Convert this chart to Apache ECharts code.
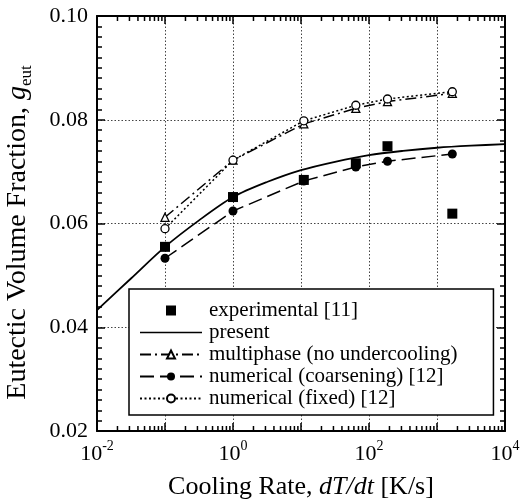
<!DOCTYPE html>
<html lang="en">
<head>
<meta charset="UTF-8">
<title>Eutectic volume fraction</title>
<script src="https://cdn.jsdelivr.net/npm/echarts@6/dist/echarts.min.js"></script>
<style>
html, body { margin: 0; padding: 0; background: #fff; }
#chart { width: 522px; height: 501px; }
</style>
</head>
<body>
<div id="chart"></div>
<script>
// cooling rates (K/s) where the measured / simulated points sit
var rates = [0.1, 1, 11, 64, 187, 1680];
var experimental = [0.0555, 0.0651, 0.0684, 0.0716, 0.0749, 0.0619];
var multiphase = [0.0612, 0.0722, 0.0792, 0.0822, 0.0835, 0.0851];
var coarsening = [0.0533, 0.0624, 0.0682, 0.0709, 0.0720, 0.0734];
var fixedModel = [0.0590, 0.0722, 0.0798, 0.0828, 0.0840, 0.0854];

// "present" model
var presentRates = [0.01, 0.0316, 0.1, 0.316, 1, 3.16, 10, 31.6, 100, 316, 1000, 3162, 10000];
var presentVals = [0.0433, 0.0494, 0.0555, 0.0606, 0.0651, 0.0680, 0.0703, 0.0719, 0.0732, 0.0740, 0.0746, 0.0750, 0.0753];

var names = ['experimental [11]', 'present', 'multiphase (no undercooling)',
  'numerical (coarsening) [12]', 'numerical (fixed) [12]'];

// log minor tick positions 2..9 x 10^k
var xMinorTicks = [];
for (var k = -2; k < 4; k++) {
  for (var m = 2; m < 10; m++) xMinorTicks.push(m * Math.pow(10, k));
}

var FONT = 'Liberation Serif';

function pairs(xs, ys) {
  return xs.map(function (x, i) { return [x, ys[i]]; });
}

var chart = echarts.init(document.getElementById('chart'));

var axisLine = { show: true, lineStyle: { color: '#000', width: 2 } };
var dotted = { show: true, lineStyle: { color: '#444', width: 1, type: [1.5, 2] } };
var tick = { inside: true, length: 8, lineStyle: { color: '#000', width: 1.5 } };
var minor = { show: true, splitNumber: 10, length: 5, lineStyle: { color: '#000', width: 1.5 } };
var hollow = { color: '#fff', borderColor: '#000', borderWidth: 1.3, opacity: 1 };

var option = {
  backgroundColor: '#fff',
  animation: false,
  grid: { left: 97, top: 16, right: 17, bottom: 70, outerBoundsMode: 'none' },
  legend: {
    orient: 'vertical',
    left: 129,
    top: 289,
    data: [
      { name: names[0], icon: 'path://M0,0L10,0L10,10L0,10Z' },
      { name: names[1], icon: 'path://M0,0L60,0L60,1.6L0,1.6Z' },
      names[2], names[3], names[4]
    ],
    symbolKeepAspect: true,
    itemWidth: 62,
    itemHeight: 10,
    itemGap: 1,
    padding: [11, 36, 6, 10],
    borderColor: '#000',
    borderWidth: 1.5,
    backgroundColor: '#fff',
    textStyle: { fontFamily: FONT, fontSize: 21, lineHeight: 19, color: '#000', padding: [0, 0, 0, 2] },
    z: 10
  },
  xAxis: [{
    type: 'log',
    logBase: 10,
    min: 0.01,
    max: 10000,
    position: 'bottom',
    axisLine: axisLine,
    axisTick: tick,
    splitLine: dotted,
    axisLabel: {
      margin: 8,
      showMinLabel: true,
      showMaxLabel: true,
      formatter: function (v) {
        var e = Math.round(Math.log10(v));
        if (e % 2 !== 0) return '';
        return '{b|10}{s|' + e + '}';
      },
      rich: {
        b: { fontFamily: FONT, fontSize: 22, color: '#000', lineHeight: 30 },
        s: { fontFamily: FONT, fontSize: 14, color: '#000', lineHeight: 14, verticalAlign: 'top' }
      }
    },
    name: '{n|Cooling Rate, }{i|dT/dt}{n| [K/s]}',
    nameLocation: 'middle',
    nameGap: 43,
    nameTextStyle: {
      rich: {
        n: { fontFamily: FONT, fontSize: 26, color: '#000' },
        i: { fontFamily: FONT, fontSize: 26, color: '#000', fontStyle: 'italic' }
      }
    }
  }, {
    type: 'log',
    logBase: 10,
    min: 0.01,
    max: 10000,
    position: 'top',
    axisLine: axisLine,
    axisTick: tick,
    axisLabel: { show: false },
    splitLine: { show: false }
  }],
  yAxis: [{
    type: 'value',
    min: 0.02,
    max: 0.10,
    interval: 0.02,
    position: 'left',
    axisLine: axisLine,
    axisTick: tick,
    minorTick: minor,
    splitLine: dotted,
    axisLabel: {
      margin: 9,
      fontFamily: FONT,
      fontSize: 22,
      color: '#000',
      formatter: function (v) { return v.toFixed(2); }
    },
    name: '{n|Eutectic Volume Fraction, }{i|g}{s|eut}',
    nameLocation: 'middle',
    nameGap: 62,
    nameTextStyle: {
      padding: [0, 18, 0, 0],
      rich: {
        n: { fontFamily: FONT, fontSize: 28, color: '#000', lineHeight: 34 },
        i: { fontFamily: FONT, fontSize: 28, color: '#000', fontStyle: 'italic', lineHeight: 34 },
        s: { fontFamily: FONT, fontSize: 17, color: '#000', lineHeight: 17, verticalAlign: 'bottom' }
      }
    }
  }, {
    type: 'value',
    min: 0.02,
    max: 0.10,
    interval: 0.02,
    position: 'right',
    axisLine: axisLine,
    axisTick: tick,
    minorTick: minor,
    axisLabel: { show: false },
    splitLine: { show: false }
  }],
  series: [{
    name: names[1],
    type: 'line',
    data: pairs(presentRates, presentVals),
    smooth: 0.3,
    symbol: 'none',
    lineStyle: { color: '#000', width: 1.8 },
    itemStyle: { color: '#000' },
    z: 3
  }, {
    name: names[2],
    type: 'line',
    data: pairs(rates, multiphase),
    symbol: 'triangle',
    symbolSize: 8,
    lineStyle: { color: '#000', width: 1.5, type: [11, 4, 2, 4] },
    itemStyle: hollow,
    z: 4
  }, {
    name: names[3],
    type: 'line',
    data: pairs(rates, coarsening),
    symbol: 'circle',
    symbolSize: 9,
    lineStyle: { color: '#000', width: 1.5, type: [14, 6] },
    itemStyle: { color: '#000' },
    z: 4
  }, {
    name: names[4],
    type: 'line',
    data: pairs(rates, fixedModel),
    symbol: 'circle',
    symbolSize: 8,
    lineStyle: { color: '#000', width: 1.5, type: [2, 2.5] },
    itemStyle: hollow,
    z: 4
  }, {
    name: names[0],
    type: 'scatter',
    data: pairs(rates, experimental),
    symbol: 'rect',
    symbolSize: 10,
    itemStyle: { color: '#000', opacity: 1 },
    z: 5
  }, {
    name: 'minor ticks',
    type: 'custom',
    silent: true,
    clip: false,
    data: xMinorTicks.map(function (v) { return [v, 0.02]; }),
    encode: { x: 0, y: 1 },
    renderItem: function (params, api) {
      var v = api.value(0);
      var b = api.coord([v, 0.02]);
      var t = api.coord([v, 0.10]);
      return {
        type: 'group',
        children: [
          { type: 'line', shape: { x1: b[0], y1: b[1], x2: b[0], y2: b[1] - 5 }, style: { stroke: '#000', lineWidth: 1.5 } },
          { type: 'line', shape: { x1: t[0], y1: t[1], x2: t[0], y2: t[1] + 5 }, style: { stroke: '#000', lineWidth: 1.5 } }
        ]
      };
    },
    z: 2
  }]
};

chart.setOption(option);
</script>
</body>
</html>
